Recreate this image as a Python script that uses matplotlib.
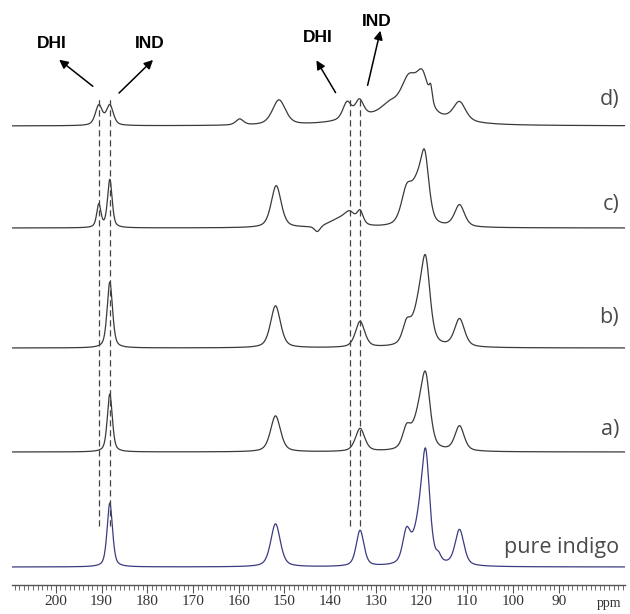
import numpy as np
import matplotlib.pyplot as plt
from matplotlib.ticker import MultipleLocator

# peak tables: centre (ppm), height (px above baseline), fwhm (ppm)
pure_pos = [188.2, 151.95, 133.45, 123.3, 120.6, 119.1, 116.3, 111.7]
pure_h = [64, 43, 36, 31, 34, 100, 6, 36]
pure_w = [1.4, 2.5, 2.0, 2.0, 3.0, 2.1, 1.2, 2.3]

a_pos = [188.2, 151.95, 133.45, 123.3, 120.6, 119.1, 111.7]
a_h = [58, 36, 23, 19, 30, 62, 25]
a_w = [1.3, 2.6, 2.4, 2.1, 3.4, 2.3, 2.4]

b_pos = [188.2, 151.95, 133.45, 123.3, 120.6, 119.1, 111.7]
b_h = [66, 42, 26, 19, 34, 72, 28]
b_w = [1.4, 2.6, 2.4, 2.1, 3.4, 2.3, 2.6]

c_pos = [190.6, 188.2, 151.8, 142.8, 137.5, 135.7, 133.45, 123.3, 121.0, 119.3, 111.7]
c_h = [23, 48, 42, -6, 9, 9, 13, 32, 34, 60, 22]
c_w = [1.1, 1.2, 2.6, 1.5, 6.0, 2.5, 1.6, 2.8, 3.2, 2.2, 2.6]

d_pos = [190.6, 188.2, 159.8, 151.2, 136.3, 133.6, 127.0, 122.8, 119.8, 118.0, 111.7, 125.0]
d_h = [20, 20, 6, 25, 17, 17, 8, 33, 36, 14, 19, 13]
d_w = [1.8, 1.8, 2.0, 3.4, 2.2, 2.2, 4.0, 4.0, 3.2, 0.8, 3.2, 20.0]

labels = ["pure indigo", "a)", "b)", "c)", "d)"]
tables = [(pure_pos, pure_h, pure_w), (a_pos, a_h, a_w), (b_pos, b_h, b_w),
          (c_pos, c_h, c_w), (d_pos, d_h, d_w)]
offsets = [22, 137, 241, 361, 463]
colors = ["#3b3b80", "#3a3a3a", "#3a3a3a", "#3a3a3a", "#3a3a3a"]

ppm = np.linspace(209.6, 75.5, 4000)


def line_shape(x, c, h, w, eta=0.5):
    s = w / 2.3548
    g = np.exp(-0.5 * ((x - c) / s) ** 2)
    l = 1.0 / (1.0 + ((x - c) / (w / 2)) ** 2)
    return h * (eta * l + (1 - eta) * g)


def spectrum(pos, hgt, wid):
    y = np.zeros_like(ppm)
    for c, h, w in zip(pos, hgt, wid):
        y += line_shape(ppm, c, h, w)
    return y


fig = plt.figure(figsize=(6.3, 6.14), dpi=100)
# y data = 589 - pixel row, axis line sits at row 585
ax = fig.add_axes([12 / 630, 29 / 614, 613 / 630, 585 / 614])
ax.set_xlim(209.6, 75.5)
ax.set_ylim(4, 589)

for (pos, hgt, wid), off, col in zip(tables, offsets, colors):
    ax.plot(ppm, spectrum(pos, hgt, wid) + off, color=col, lw=0.9)

# dashed guides at the DHI / IND positions
ax.vlines([190.6, 188.2, 135.7, 133.45], 63, 492, colors="#444444",
          linestyles=(0, (5, 3)), lw=0.9)

label_rows = [548, 430, 318, 205, 100]
for lab, row in zip(labels, label_rows):
    fig.text(619 / 630, 1 - row / 614, lab, ha="right", va="center",
             fontsize=15.5, color="#4a4a4a", family="Open Sans")

# arrows + labels
arr = dict(arrowstyle="-|>", color="black", lw=1.1, mutation_scale=13)
for tail, head in [((95, 88), (57, 58)), ((117, 95), (155, 58)),
                   ((337, 95), (315, 58)), ((367, 88), (381, 28))]:
    ax.annotate("", xy=(head[0], 614 - head[1]), xytext=(tail[0], 614 - tail[1]),
                xycoords="figure pixels", textcoords="figure pixels", arrowprops=arr)
for txt, x, row in [("DHI", 52, 43), ("IND", 150, 43), ("DHI", 318, 37), ("IND", 377, 21)]:
    fig.text(x / 630, 1 - row / 614, txt, ha="center", va="center", fontsize=12.5,
             fontweight="bold", family="Liberation Sans")

for s in ["left", "right", "top"]:
    ax.spines[s].set_visible(False)
ax.spines["bottom"].set_color("#555555")
ax.spines["bottom"].set_linewidth(1.0)
ax.set_yticks([])
ax.set_xticks(np.arange(200, 85, -10))
ax.xaxis.set_minor_locator(MultipleLocator(1))
ax.tick_params(axis="x", which="major", direction="out", length=6, width=0.8,
               color="#555555", labelsize=11, labelcolor="#333333", pad=1.5)
ax.tick_params(axis="x", which="minor", direction="out", length=3.5, width=0.6,
               color="#555555")
for t in ax.get_xticklabels():
    t.set_family("Liberation Serif")
ax.text(79, -14, "ppm", ha="center", va="center", fontsize=10,
        family="Liberation Serif", color="#333333", clip_on=False)

fig.savefig("out.png", dpi=100)
